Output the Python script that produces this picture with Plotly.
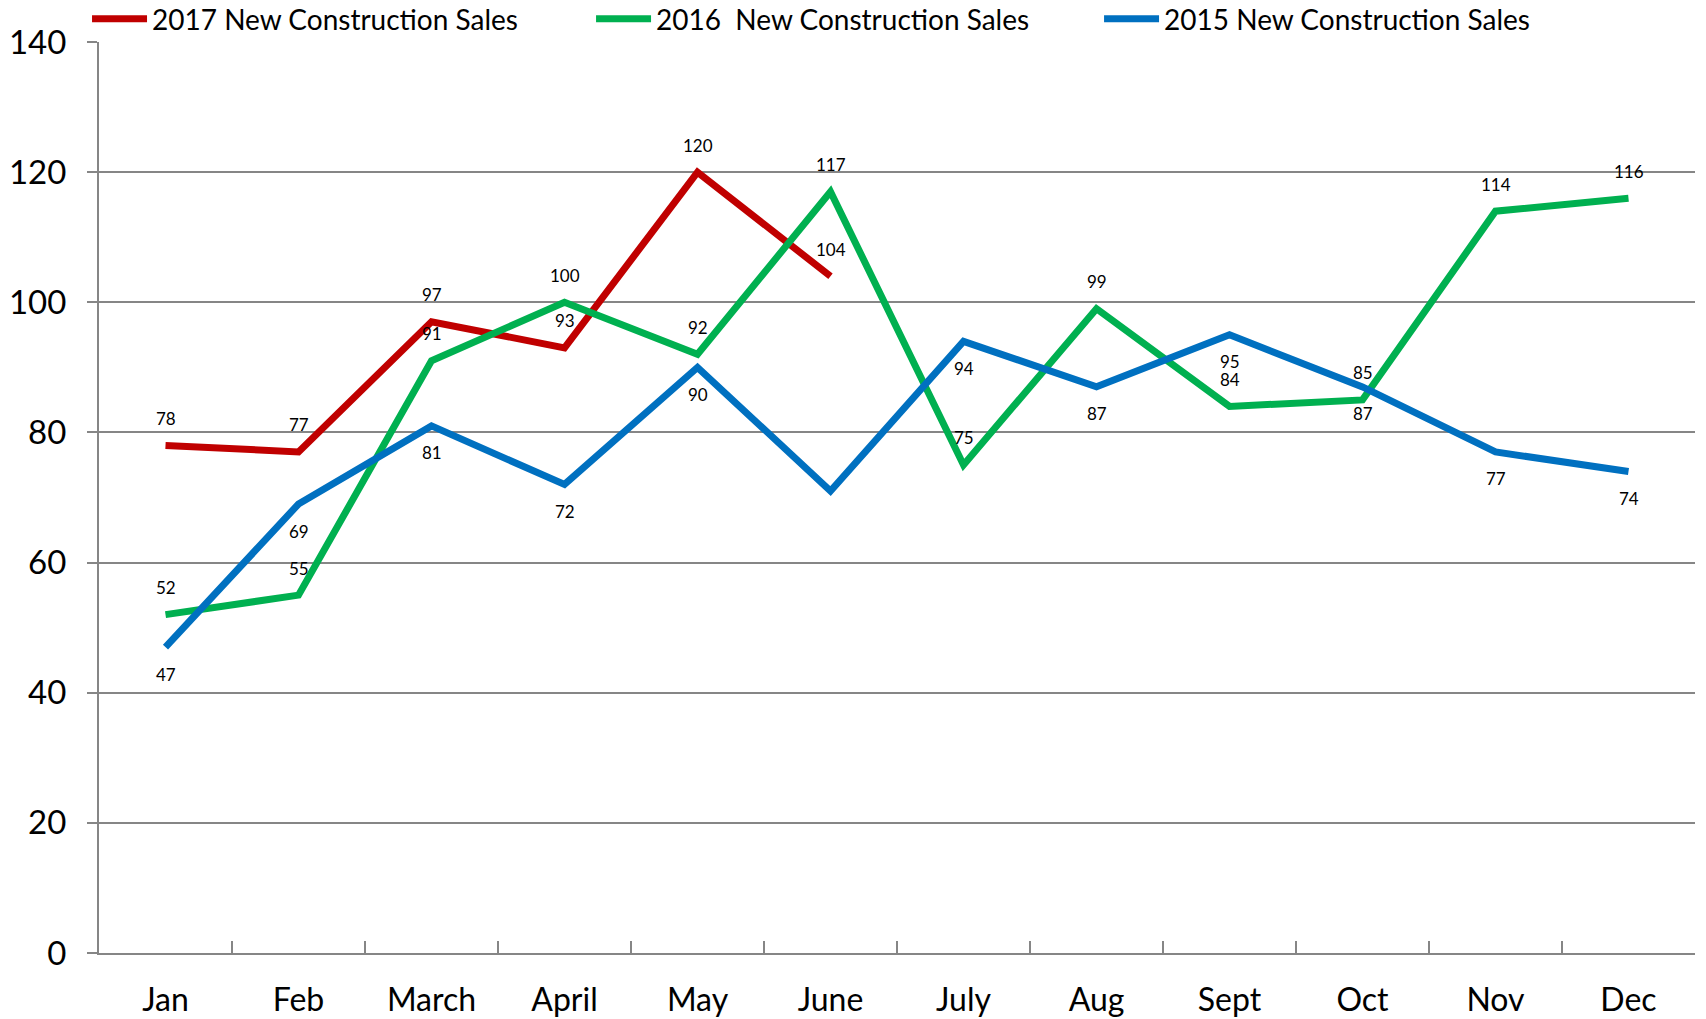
import plotly.graph_objects as go

months = ["Jan", "Feb", "March", "April", "May", "June", "July", "Aug", "Sept", "Oct", "Nov", "Dec"]
sales_2017 = [78, 77, 97, 93, 120, 104]
sales_2016 = [52, 55, 91, 100, 92, 117, 75, 99, 84, 85, 114, 116]
sales_2015 = [47, 69, 81, 72, 90, 71, 94, 87, 95, 87, 77, 74]
labels_2015 = ["47", "69", "81", "72", "90", "", "94", "87", "95", "87", "77", "74"]
y_ticks = [0, 20, 40, 60, 80, 100, 120, 140]

FONT = "Lato, 'Open Sans', sans-serif"
fig = go.Figure()

series = [
    ("2017 New Construction Sales", sales_2017, "#C00000", [str(v) for v in sales_2017], 1, "legend"),
    ("2016\u00a0 New Construction Sales", sales_2016, "#00B050", [str(v) for v in sales_2016], 1, "legend2"),
    ("2015 New Construction Sales", sales_2015, "#0070C0", labels_2015, -1, "legend3"),
]

annotations = []
for name, vals, color, labels, side, leg in series:
    fig.add_trace(go.Scatter(
        x=months[:len(vals)], y=vals, mode="lines", name=name,
        line=dict(color=color, width=7), hoverinfo="x+y", legend=leg,
    ))
    for m, v, t in zip(months, vals, labels):
        if t:
            annotations.append(dict(
                x=m, y=v, text=t, showarrow=False, yshift=27 * side,
                font=dict(family=FONT, size=17, color="#000000"),
            ))

def legend_at(xpos):
    return dict(
        orientation="h", x=xpos, xanchor="left", y=1.0063, yanchor="top",
        font=dict(family=FONT, size=28, color="#000000"),
        itemwidth=55, bgcolor="rgba(0,0,0,0)",
    )

fig.update_layout(
    width=1706, height=1019,
    paper_bgcolor="white", plot_bgcolor="white",
    margin=dict(l=99, r=11, t=0, b=66, autoexpand=False),
    font=dict(family=FONT, color="#000000"),
    showlegend=True,
    legend=legend_at(-0.0075),
    legend2=legend_at(0.3083),
    legend3=legend_at(0.6266),
    annotations=annotations,
)

fig.update_xaxes(
    type="category", categoryorder="array", categoryarray=months,
    range=[-0.5, 11.5],
    showline=True, linecolor="#868686", linewidth=2,
    ticks="inside", tickson="boundaries", ticklen=12, tickcolor="#868686", tickwidth=1.5,
    showgrid=False,
    tickfont=dict(family=FONT, size=32, color="#000000"),
    ticklabelstandoff=18,
)
fig.update_yaxes(
    domain=[0, 911 / 953],
    range=[0, 140], tickvals=y_ticks,
    showline=True, linecolor="#868686", linewidth=2,
    showgrid=True, gridcolor="#868686", gridwidth=1.5,
    ticks="outside", ticklen=10, tickcolor="#868686", tickwidth=1.5,
    tickfont=dict(family=FONT, size=33, color="#000000"),
    ticklabelstandoff=14,
    zeroline=False,
)

fig.write_html(
    "out.html",
    config={"displayModeBar": False},
    post_script="document.body.style.margin='0';",
)
